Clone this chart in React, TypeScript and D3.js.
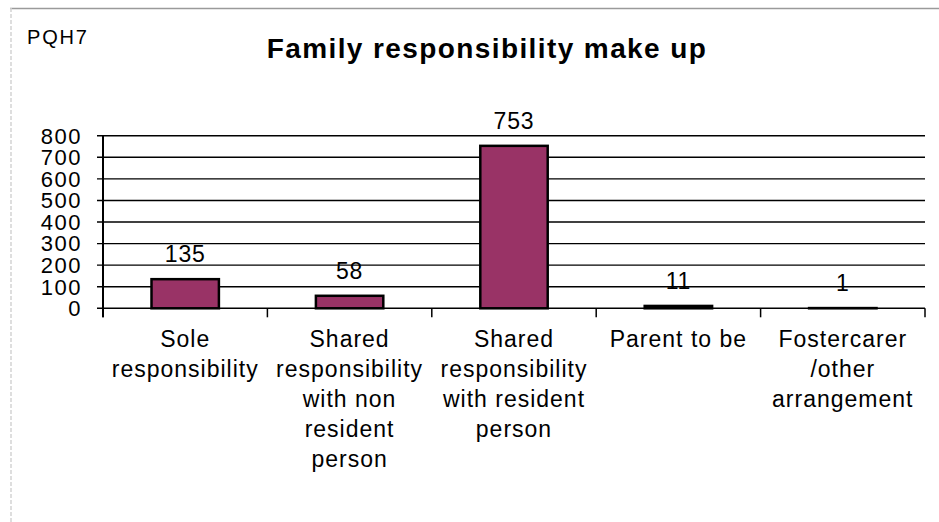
import React from "react";
import * as d3 from "d3";

const categories: string[][] = [
  ["Sole", "responsibility"],
  ["Shared", "responsibility", "with non", "resident", "person"],
  ["Shared", "responsibility", "with resident", "person"],
  ["Parent to be"],
  ["Fostercarer", "/other", "arrangement"],
];
const values: number[] = [135, 58, 753, 11, 1];
const yTicks: number[] = [0, 100, 200, 300, 400, 500, 600, 700, 800];
const title = "Family responsibility make up";
const code = "PQH7";

const W = 939;
const H = 522;
const FONT = "'Liberation Sans', Arial, Helvetica, sans-serif";

export default function App() {
  const left = 103;
  const right = 925;
  const top = 135.7;
  const bottom = 308.3;

  const x = d3
    .scaleBand<number>()
    .domain(d3.range(values.length))
    .range([left, right])
    .padding(0);
  const y = d3.scaleLinear().domain([0, 800]).range([bottom, top]);
  const barW = x.bandwidth() * 0.41;
  const boundaries = d3.range(values.length + 1).map((i) => left + i * x.bandwidth());

  return (
    <svg
      width={W}
      height={H}
      style={{ position: "absolute", left: 0, top: 0, background: "#fff" }}
      fontFamily={FONT}
    >
      <rect x={0} y={0} width={W} height={H} fill="#fff" />
      {/* outer frame */}
      <line x1={10} x2={W} y1={8.5} y2={8.5} stroke="#9a9a9a" strokeWidth={1.5} />
      <line x1={11} x2={11} y1={8} y2={H} stroke="#d4d4d4" strokeWidth={1.5} strokeDasharray="4 2" />

      <text x={27} y={44} fontSize={20} letterSpacing={1.8} fill="#000">
        {code}
      </text>
      <text
        x={487}
        y={58}
        fontSize={28}
        fontWeight="bold"
        letterSpacing={1.4}
        textAnchor="middle"
        fill="#000"
      >
        {title}
      </text>

      {/* gridlines */}
      {yTicks.map((t) => (
        <line
          key={"g" + t}
          x1={left - 6}
          x2={right}
          y1={y(t)}
          y2={y(t)}
          stroke="#000"
          strokeWidth={1.4}
        />
      ))}
      {/* y axis */}
      <line x1={left} x2={left} y1={top} y2={bottom + 9} stroke="#000" strokeWidth={2} />
      {yTicks.map((t) => (
        <text
          key={"yl" + t}
          x={82}
          y={y(t)}
          dy="0.36em"
          fontSize={22}
          letterSpacing={1.5}
          textAnchor="end"
          fill="#000"
        >
          {t}
        </text>
      ))}
      {/* category ticks */}
      {boundaries.map((b, i) => (
        <line key={"xt" + i} x1={b} x2={b} y1={bottom} y2={bottom + 9} stroke="#000" strokeWidth={1.5} />
      ))}

      {/* bars */}
      {values.map((v, i) => {
        const cx = (x(i) as number) + x.bandwidth() / 2;
        return (
          <g key={"b" + i}>
            <rect
              x={cx - barW / 2}
              y={y(v)}
              width={barW}
              height={bottom - y(v)}
              fill="#993366"
              stroke="#000"
              strokeWidth={2.5}
            />
            <text
              x={cx}
              y={y(v) - 17}
              fontSize={23}
              letterSpacing={0.8}
              textAnchor="middle"
              fill="#000"
            >
              {v}
            </text>
          </g>
        );
      })}

      {/* category labels */}
      {categories.map((lines, i) => {
        const cx = (x(i) as number) + x.bandwidth() / 2;
        return (
          <text key={"c" + i} fontSize={23} letterSpacing={1} textAnchor="middle" fill="#000">
            {lines.map((ln, j) => (
              <tspan key={j} x={cx} y={347 + j * 30}>
                {ln}
              </tspan>
            ))}
          </text>
        );
      })}
    </svg>
  );
}
